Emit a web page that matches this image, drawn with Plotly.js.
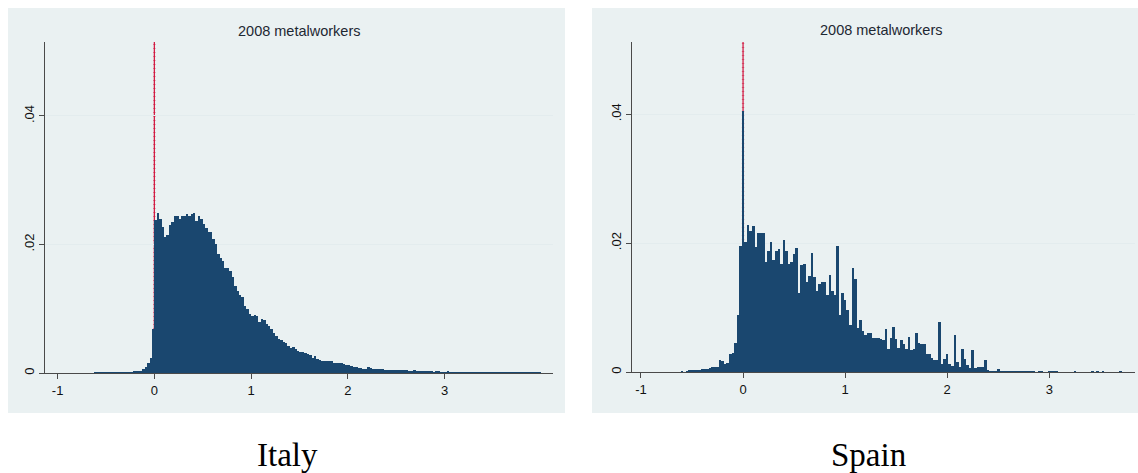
<!DOCTYPE html>
<html>
<head>
<meta charset="utf-8">
<script src="https://cdn.plot.ly/plotly-3.0.1.min.js"></script>
<style>
  html, body { margin: 0; padding: 0; background: #ffffff; }
  #chart { width: 1138px; height: 473px; }
</style>
</head>
<body>
<div id="chart"></div>
<script>
// ---- DATA ----
const binWidth = 0.025;
const italyBinStart = -0.625;   // left edge of first Italy bin
const spainBinStart = -0.6125;  // left edge of first Spain bin
const panelTitle = "2008 metalworkers";
const countryLabels = ["Italy", "Spain"];
const xTickVals = [-1, 0, 1, 2, 3];
const xTickText = ["-1", "0", "1", "2", "3"];
const yTickVals = [0, 0.02, 0.04];
const yTickText = ["0", ".02", ".04"];
const refLineX = 0;

const italyDensity = [
  0.0001,0.0001,0.0001,0.0001,0.0001,0.0001,0.0001,0.0001,0.0001,
  0.0002,0.0001,0.0002,0.0002,0.0002,0.0002,
  0.0002,0.0003,0.0003,0.0003,0.0003,0.0006,0.0010,0.0015,0.0024,0.0069,
  0.0238,0.0249,0.0239,0.0227,0.0211,0.0215,0.0230,0.0235,0.0244,0.0244,
  0.0240,0.0244,0.0244,0.0247,0.0245,0.0247,0.0249,0.0236,0.0245,0.0240,
  0.0232,0.0226,0.0219,0.0219,0.0209,0.0201,0.0185,0.0179,0.0175,0.0164,
  0.0163,0.0158,0.0150,0.0136,0.0128,0.0122,0.0119,0.0105,0.0100,0.0092,
  0.0089,0.0091,0.0088,0.0080,0.0084,0.0082,0.0076,0.0073,0.0069,0.0063,
  0.0057,0.0053,0.0052,0.0049,0.0047,0.0042,0.0039,0.0040,0.0037,0.0034,
  0.0032,0.0032,0.0031,0.0029,0.0028,0.0024,0.0026,0.0022,0.0020,0.0019,
  0.0019,0.0019,0.0018,0.0018,0.0016,0.0015,0.0015,0.0015,0.0014,0.0013,
  0.0012,0.0011,0.0010,0.0009,0.0008,0.0008,0.0007,0.0007,0.0010,0.0008,
  0.0007,0.0007,0.0006,0.0006,0.0006,0.0005,0.0005,0.0005,0.0005,0.0005,
  0.0004,0.0004,0.0004,0.0005,0.0004,0.0003,0.0003,0.0004,0.0003,0.0003,
  0.0003,0.0003,0.0003,0.0003,0.0003,0.0002,0.0003,0.0003,0.0002,0.0002,
  0.0002,0.0003,0.0002,0.0002,0.0002,0.0002,0.0002,0.0002,0.0001,0.0002,
  0.0002,0.0001,0.0002,0.0001,0.0001,0.0001,0.0001,0.0001,0.0001,0.0001,
  0.0001,0.0001,0.0001,0.0001,0.0001,0.0001,0.0001,0.0001,0.0001,0.0001,
  0.0001,0.0001,0.0001,0.0001,0.0001,0.0001,0.0001,0.0001,0.0001,0.0001
];

const spainDensity = [
  0.0001,0,0.0001,0.0003,0.0003,0.0003,0.0003,0.0003,0.0004,0.0004,
  0.0004,0.0006,0.0007,0.0007,0.0007,0.0018,0.0017,0.0012,0.0014,0.0028,
  0.0030,0.0045,0.0088,0.0196,0.0405,0.0202,0.0228,0.0219,0.0227,0.0194,
  0.0216,0.0216,0.0216,0.0170,0.0187,0.0201,0.0174,0.0188,0.0191,0.0167,
  0.0205,0.0187,0.0167,0.0170,0.0183,0.0192,0.0123,0.0166,0.0168,0.0140,
  0.0149,0.0185,0.0147,0.0126,0.0137,0.0139,0.0140,0.0119,0.0150,0.0126,
  0.0119,0.0195,0.0088,0.0122,0.0112,0.0096,0.0073,0.0161,0.0145,0.0068,
  0.0080,0.0064,0.0057,0.0060,0.0060,0.0052,0.0052,0.0052,0.0051,0.0050,
  0.0067,0.0035,0.0052,0.0070,0.0051,0.0038,0.0050,0.0044,0.0036,0.0055,
  0.0034,0.0035,0.0061,0.0045,0.0044,0.0043,0.0028,0.0028,0.0021,0.0019,
  0.0018,0.0078,0.0012,0.0020,0.0028,0.0012,0.0009,0.0057,0.0016,0.0008,
  0.0036,0.0020,0.0011,0.0006,0.0034,0.0006,0.0007,0.0008,0.0008,0.0018,
  0.0003,0.0002,0.0001,0.0002,0.0004,0.0002,0.0002,0.0001,0.0001,0.0002,
  0.0001,0.0002,0.0001,0.0001,0.0001,0.0001,0.0001,0.0001,0.0001,0,
  0.0001,0.0001,0,0,0.0001,0.0001,0.0001,0.0001,0,0,
  0,0,0,0,0.0001,0,0,0,0,0,
  0,0.0001,0,0.0001,0,0.0001,0,0,0,0,
  0,0,0.0001
];

// ---- STYLE ----
const W = 1138, H = 473;
const barColor = "#1a476f";
const regionColor = "#eaf1f2";
const gridColor = "#e3ecee";
const axisColor = "#4a4a4a";
const refColor = "#d0103a";
const sans = "Liberation Sans, Arial, sans-serif";
const serif = "Liberation Serif, Times New Roman, serif";
const italyYMax = 0.0515, spainYMax = 0.0512;

function centers(start, n) {
  const out = [];
  for (let i = 0; i < n; i++) out.push(start + (i + 0.5) * binWidth);
  return out;
}

const px = v => v / W;
const py = v => 1 - v / H;

const traces = [
  { type: "bar", x: centers(italyBinStart, italyDensity.length), y: italyDensity,
    width: binWidth, marker: { color: barColor, line: { width: 0 } },
    xaxis: "x", yaxis: "y", hoverinfo: "x+y" },
  { type: "bar", x: centers(spainBinStart, spainDensity.length), y: spainDensity,
    width: binWidth, marker: { color: barColor, line: { width: 0 } },
    xaxis: "x2", yaxis: "y2", hoverinfo: "x+y" }
];

function xAxis(domain, range, anchor) {
  return {
    domain: domain, range: range, anchor: anchor,
    tickmode: "array", tickvals: xTickVals, ticktext: xTickText,
    ticks: "outside", ticklen: 5, tickwidth: 1, tickcolor: axisColor,
    showline: true, linecolor: axisColor, linewidth: 1,
    showgrid: false, zeroline: false,
    tickfont: { family: sans, size: 13, color: "#111" }
  };
}
function yAxis(domain, range, anchor) {
  return {
    domain: domain, range: range, anchor: anchor,
    tickmode: "array", tickvals: yTickVals, ticktext: yTickText,
    tickangle: -90,
    ticks: "outside", ticklen: 5, tickwidth: 1, tickcolor: axisColor,
    showline: true, linecolor: axisColor, linewidth: 1,
    showgrid: true, gridcolor: gridColor, gridwidth: 1,
    zeroline: false,
    tickfont: { family: sans, size: 13, color: "#111" }
  };
}

function refLines(xr, yr, ymax) {
  return [
    { type: "line", xref: xr, yref: yr, layer: "below",
      x0: refLineX, x1: refLineX, y0: 0, y1: ymax,
      line: { color: refColor, width: 1.2 } },
    { type: "line", xref: xr, yref: yr, layer: "below",
      x0: refLineX, x1: refLineX, y0: 0, y1: ymax,
      line: { color: "rgba(208,16,58,0.5)", width: 2.4, dash: "1px,3px" } }
  ];
}

const layout = {
  width: W, height: H,
  margin: { l: 0, r: 0, t: 0, b: 0, pad: 0 },
  paper_bgcolor: "#ffffff",
  plot_bgcolor: "#ffffff",
  showlegend: false,
  bargap: 0,
  xaxis: xAxis([px(45), px(553)], [-1.13, 4.12], "y"),
  yaxis: yAxis([py(373), py(42)], [0, italyYMax], "x"),
  xaxis2: xAxis([px(632), px(1135)], [-1.088, 3.84], "y2"),
  yaxis2: yAxis([py(372), py(42)], [0, spainYMax], "x2"),
  shapes: [
    { type: "rect", xref: "paper", yref: "paper", layer: "below",
      x0: px(8), x1: px(565), y0: py(413), y1: py(8),
      fillcolor: regionColor, line: { width: 0 } },
    { type: "rect", xref: "paper", yref: "paper", layer: "below",
      x0: px(592), x1: 1, y0: py(413), y1: py(8),
      fillcolor: regionColor, line: { width: 0 } }
  ].concat(refLines("x", "y", italyYMax), refLines("x2", "y2", spainYMax)),
  annotations: [
    { text: panelTitle, xref: "paper", yref: "paper", x: px(299), y: py(31),
      xanchor: "center", yanchor: "middle", showarrow: false,
      font: { family: sans, size: 14.5, color: "#1e2833" } },
    { text: panelTitle, xref: "paper", yref: "paper", x: px(881), y: py(30),
      xanchor: "center", yanchor: "middle", showarrow: false,
      font: { family: sans, size: 14.5, color: "#1e2833" } },
    { text: countryLabels[0], xref: "paper", yref: "paper", x: px(287), y: py(455),
      xanchor: "center", yanchor: "middle", showarrow: false,
      font: { family: serif, size: 33, color: "#000" } },
    { text: countryLabels[1], xref: "paper", yref: "paper", x: px(868), y: py(455),
      xanchor: "center", yanchor: "middle", showarrow: false,
      font: { family: serif, size: 33, color: "#000" } }
  ]
};

Plotly.newPlot("chart", traces, layout, { staticPlot: true, displayModeBar: false });
</script>
</body>
</html>
